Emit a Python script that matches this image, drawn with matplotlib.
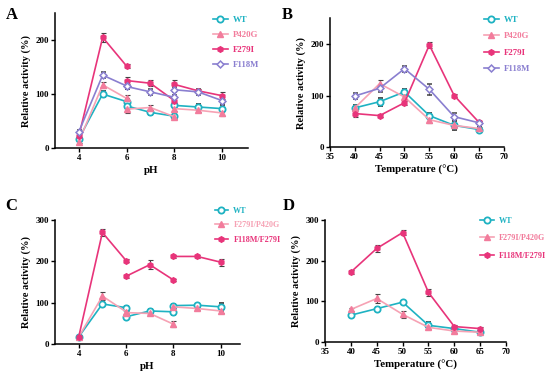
import numpy as np
import matplotlib.pyplot as plt
from matplotlib.lines import Line2D

plt.rcParams["font.family"] = ["Liberation Serif", "DejaVu Serif"]
plt.rcParams["font.weight"] = "bold"

nan = np.nan

# ---------------------------------------------------
# Data (pH curves have three buffer segments, split by nan)
# ---------------------------------------------------

ph_x = [4, 5, 6, nan, 6, 7, 8, nan, 8, 9, 10]
temp_x = [40, 45, 50, 55, 60, 65]

# Panel A
a_wt = [17, 100, 86, nan, 78, 66, 59, nan, 79, 76, 73]
a_wt_err = [4, 6, 5, nan, 8, 4, 4, nan, 5, 6, 6]
a_p420g = [12, 117, 92, nan, 72, 75, 58, nan, 73, 70, 65]
a_p420g_err = [3, 5, 6, nan, 8, 4, 4, nan, 4, 4, 5]
a_f279i = [22, 205, 152, nan, 125, 120, 88, nan, 118, 106, 97]
a_f279i_err = [4, 8, 4, nan, 6, 6, 4, nan, 8, 4, 7]
a_f118m = [30, 135, 115, nan, 114, 104, 94, nan, 108, 104, 88]
a_f118m_err = [3, 6, 6, nan, 5, 5, 5, nan, 5, 5, 5]

# Panel B
b_wt = [76, 88, 107, 61, 42, 34]
b_wt_err = [5, 8, 5, 5, 9, 4]
b_p420g = [76, 123, 97, 53, 42, 36]
b_p420g_err = [4, 8, 5, 6, 4, 3]
b_f279i = [65, 61, 86, 198, 100, 48]
b_f279i_err = [7, 3, 4, 6, 3, 3]
b_f118m = [99, 114, 152, 112, 59, 47]
b_f118m_err = [5, 7, 6, 11, 7, 3]

# Panel C
c_wt = [17, 97, 88, nan, 66, 80, 78, nan, 93, 94, 90]
c_wt_err = [3, 4, 5, nan, 4, 4, 8, nan, 4, 4, 9]
c_dm1 = [17, 116, 78, nan, 76, 74, 48, nan, 90, 86, 80]
c_dm1_err = [3, 9, 4, nan, 4, 3, 8, nan, 4, 4, 4]
c_dm2 = [17, 270, 202, nan, 164, 192, 155, nan, 212, 212, 198]
c_dm2_err = [3, 9, 3, nan, 3, 11, 3, nan, 3, 3, 9]

# Panel D
d_wt = [66, 82, 98, 41, 33, 24]
d_wt_err = [5, 4, 4, 9, 5, 3]
d_dm1 = [80, 107, 68, 36, 27, 24]
d_dm1_err = [3, 11, 9, 4, 4, 3]
d_dm2 = [172, 230, 269, 122, 38, 33]
d_dm2_err = [4, 8, 7, 8, 3, 3]

# ---------------------------------------------------
# Styles
# ---------------------------------------------------

TEAL = "#1eb2c2"
LIGHT_PINK = "#f6a2b4"
PINK_MARK = "#f27c9c"
HOT_PINK = "#e8347a"
PURPLE = "#8a7fd0"

STYLE = {
    "WT": dict(color=TEAL, marker="o", mfc="white", mec=TEAL, ms=4.5, mew=1.3),
    "P420G": dict(color=LIGHT_PINK, marker="^", mfc=PINK_MARK, mec=PINK_MARK, ms=4),
    "F279I": dict(color=HOT_PINK, marker="h", mfc=HOT_PINK, mec=HOT_PINK, ms=4),
    "F118M": dict(color=PURPLE, marker="D", mfc="white", mec=PURPLE, ms=3.5, mew=1.1),
}


def draw(ax, x, y, err, style):
    ax.errorbar(
        x, y, yerr=err,
        lw=1.2, ecolor="#444444", elinewidth=0.8, capsize=1.8, capthick=0.8,
        zorder=3, **style
    )


def setup_axes(ax, xlim, xticks, ylim, yticks, xlabel):
    ax.set_xlim(*xlim)
    ax.set_ylim(*ylim)
    ax.set_xticks(xticks)
    ax.set_yticks(yticks)
    for side in ["top", "right"]:
        ax.spines[side].set_visible(False)
    for side in ["left", "bottom"]:
        ax.spines[side].set_linewidth(1.1)
    ax.tick_params(width=1.0, length=3, labelsize=6.5, pad=1.5)
    for lab in ax.get_xticklabels() + ax.get_yticklabels():
        lab.set_fontweight("bold")
    ax.set_xlabel(xlabel, fontsize=7.8, fontweight="bold", labelpad=3)
    ax.set_ylabel("Relative activity (%)", fontsize=7.5, fontweight="bold", labelpad=3)


def add_legend(ax, fig, names, styles, text_colors, anchor, spacing, size):
    handles = [Line2D([], [], lw=1.2, **s) for s in styles]
    leg = ax.legend(
        handles, names,
        loc="upper left", bbox_to_anchor=anchor, bbox_transform=fig.transFigure,
        frameon=False, fontsize=size, handlelength=1.7, handletextpad=0.6,
        labelspacing=spacing, borderaxespad=0, borderpad=0,
    )
    for text, c in zip(leg.get_texts(), text_colors):
        text.set_color(c)
        text.set_fontweight("bold")


fig = plt.figure(figsize=(5.5, 3.79), dpi=100)

ax_a = fig.add_axes([0.100, 0.6095, 0.351, 0.356])
ax_b = fig.add_axes([0.600, 0.612, 0.316, 0.340])
ax_c = fig.add_axes([0.100, 0.0923, 0.336, 0.327])
ax_d = fig.add_axes([0.591, 0.0976, 0.329, 0.322])

single = ["WT", "P420G", "F279I", "F118M"]
single_styles = [STYLE[k] for k in single]
single_colors = [TEAL, PINK_MARK, HOT_PINK, PURPLE]

double = ["WT", "F279I/P420G", "F118M/F279I"]
double_styles = [STYLE["WT"], STYLE["P420G"], STYLE["F279I"]]

# Panel A
draw(ax_a, ph_x, a_wt, a_wt_err, STYLE["WT"])
draw(ax_a, ph_x, a_p420g, a_p420g_err, STYLE["P420G"])
draw(ax_a, ph_x, a_f279i, a_f279i_err, STYLE["F279I"])
draw(ax_a, ph_x, a_f118m, a_f118m_err, STYLE["F118M"])
setup_axes(ax_a, (3, 11.1), [4, 6, 8, 10], (0, 250), [0, 100, 200], "pH")
add_legend(ax_a, fig, single, single_styles, single_colors, (0.387, 0.958), 0.8, 6.3)

# Panel B
draw(ax_b, temp_x, b_wt, b_wt_err, STYLE["WT"])
draw(ax_b, temp_x, b_p420g, b_p420g_err, STYLE["P420G"])
draw(ax_b, temp_x, b_f279i, b_f279i_err, STYLE["F279I"])
draw(ax_b, temp_x, b_f118m, b_f118m_err, STYLE["F118M"])
setup_axes(ax_b, (35, 70), [35, 40, 45, 50, 55, 60, 65, 70], (0, 250), [0, 100, 200],
           "Temperature (\u00b0C)")
add_legend(ax_b, fig, single, single_styles, single_colors, (0.880, 0.958), 0.95, 6.3)

# Panel C
draw(ax_c, ph_x, c_wt, c_wt_err, STYLE["WT"])
draw(ax_c, ph_x, c_dm1, c_dm1_err, STYLE["P420G"])
draw(ax_c, ph_x, c_dm2, c_dm2_err, STYLE["F279I"])
setup_axes(ax_c, (3, 10.8), [4, 6, 8, 10], (0, 300), [0, 100, 200, 300], "pH")
add_legend(ax_c, fig, double, double_styles, [TEAL, LIGHT_PINK, HOT_PINK],
           (0.390, 0.455), 0.8, 5.9)

# Panel D
draw(ax_d, temp_x, d_wt, d_wt_err, STYLE["WT"])
draw(ax_d, temp_x, d_dm1, d_dm1_err, STYLE["P420G"])
draw(ax_d, temp_x, d_dm2, d_dm2_err, STYLE["F279I"])
setup_axes(ax_d, (35, 70), [35, 40, 45, 50, 55, 60, 65, 70], (0, 300), [0, 100, 200, 300],
           "Temperature (\u00b0C)")
add_legend(ax_d, fig, double, double_styles, [TEAL, PINK_MARK, HOT_PINK],
           (0.872, 0.428), 1.15, 5.9)

# Panel letters
for x, y, letter in [(0.010, 0.982, "A"), (0.513, 0.982, "B"),
                     (0.010, 0.478, "C"), (0.513, 0.478, "D")]:
    fig.text(x, y, letter, fontsize=12, fontweight="bold", va="top")

fig.savefig("out.png", dpi=100)
